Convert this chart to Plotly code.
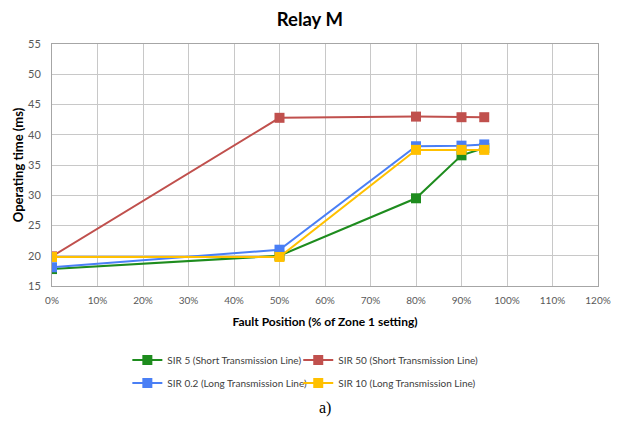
import plotly.graph_objects as go

positions = [0.0, 0.5, 0.8, 0.9, 0.95]
sir5_short = [17.8, 20.0, 29.5, 36.6, 37.8]
sir50_short = [19.9, 42.8, 43.0, 42.9, 42.9]
sir02_long = [18.1, 21.0, 38.1, 38.2, 38.4]
sir10_long = [19.8, 19.8, 37.5, 37.5, 37.5]

names = ["SIR 5 (Short Transmission Line)", "SIR 50 (Short Transmission Line)",
         "SIR 0.2 (Long Transmission Line)", "SIR 10 (Long Transmission Line)"]
colors = ["#1e8c1e", "#c0504d", "#4a7ff5", "#ffc000"]
series = [sir5_short, sir50_short, sir02_long, sir10_long]
legends = ["legend", "legend2", "legend3", "legend4"]

fig = go.Figure()
for n, c, s, lg in zip(names, colors, series, legends):
    fig.add_trace(go.Scatter(x=positions, y=s, name=n, mode="lines+markers",
                             line=dict(color=c, width=2),
                             marker=dict(symbol="square", size=10, color=c),
                             legend=lg))

font = "Lato, 'Open Sans', sans-serif"
leg_common = dict(orientation="h", xanchor="left", yanchor="middle", itemwidth=30,
                  font=dict(size=10, color="#404040", family=font),
                  bgcolor="rgba(0,0,0,0)")

col1, col2 = 0.138, 0.451
row1, row2 = -0.306, -0.401

# page body has an 8px margin, so the figure is 8px smaller and shifted
fig.update_layout(
    width=611, height=415,
    margin=dict(l=44, r=21, t=36, b=137, autoexpand=False),
    paper_bgcolor="white", plot_bgcolor="white",
    font=dict(family=font),
    title=dict(text="<b>Relay M</b>", x=0.494, xanchor="center", xref="container",
               y=0.972, yref="container", yanchor="middle",
               font=dict(size=18.5, color="#000000", family=font)),
    showlegend=True,
    legend=dict(x=col1, y=row1, **leg_common),
    legend2=dict(x=col2, y=row1, **leg_common),
    legend3=dict(x=col1, y=row2, **leg_common),
    legend4=dict(x=col2, y=row2, **leg_common),
    xaxis=dict(range=[0, 1.2], tickvals=[i / 10 for i in range(13)], tickformat=".0%",
               automargin=False, ticklabelstandoff=5,
               showgrid=True, gridcolor="#c8c8c8", gridwidth=1,
               showline=True, linecolor="#a6a6a6", linewidth=1, mirror=True,
               zeroline=False, ticks="", tickfont=dict(size=10, color="#595959", family=font),
               title=dict(text="<b>Fault Position (% of Zone 1 setting)</b>", standoff=12,
                          font=dict(size=12, color="#000000", family=font))),
    yaxis=dict(range=[15, 55], tickvals=list(range(15, 56, 5)),
               automargin=False, ticklabelstandoff=8,
               showgrid=True, gridcolor="#c8c8c8", gridwidth=1,
               showline=True, linecolor="#a6a6a6", linewidth=1, mirror=True,
               zeroline=False, ticks="", tickfont=dict(size=11, color="#595959", family=font),
               title=dict(text="<b>Operating time (ms)</b>", standoff=1,
                          font=dict(size=13, color="#000000", family=font))),
    annotations=[dict(text="a)", x=0.5, xref="paper", y=-0.504, yref="paper",
                      showarrow=False, xanchor="center", yanchor="middle",
                      font=dict(size=16, color="#000000", family="'Liberation Serif', serif"))],
)

fig.write_html("out.html")
